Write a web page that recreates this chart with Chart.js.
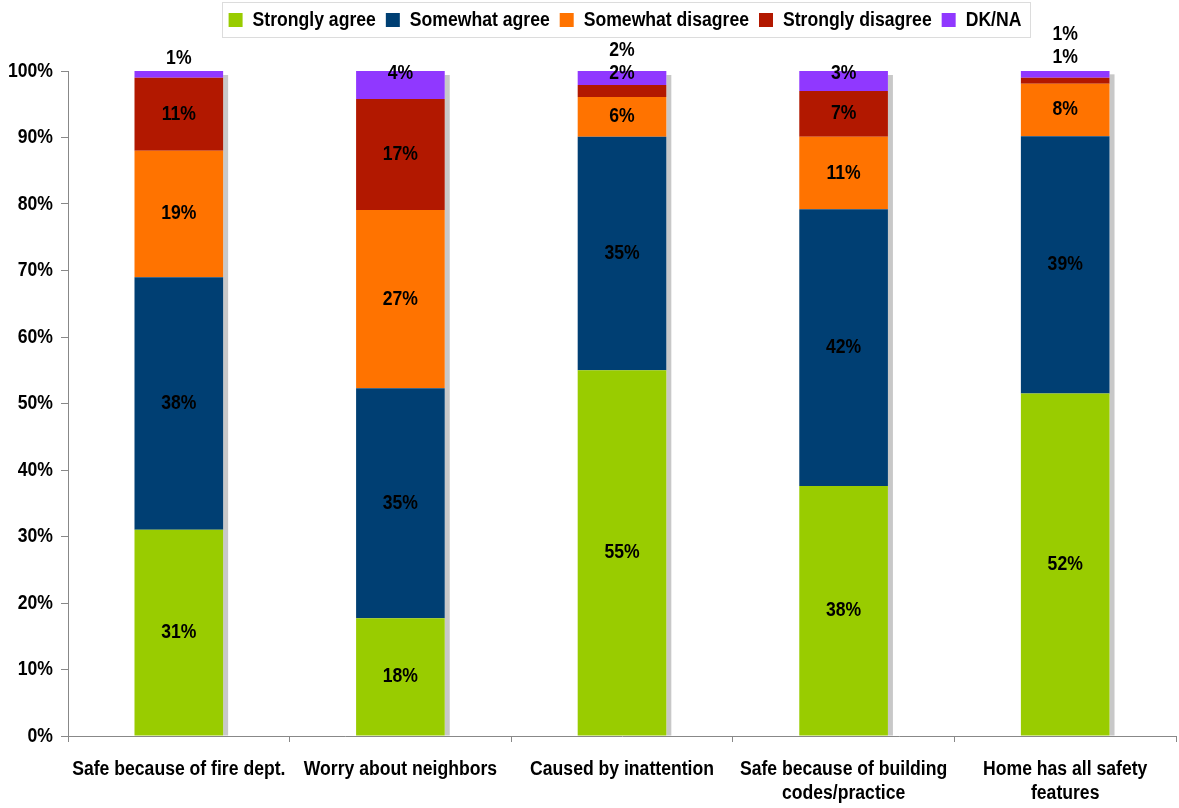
<!DOCTYPE html>
<html>
<head>
<meta charset="utf-8">
<script src="https://cdn.jsdelivr.net/npm/chart.js@4.4.1/dist/chart.umd.min.js"></script>
<style>
  html, body { margin: 0; padding: 0; background: #fff; }
  #wrap { width: 1179px; height: 808px; }
</style>
</head>
<body>
<div id="wrap"><canvas id="chart" width="1179" height="808"></canvas></div>
<script>
// ---------- Data ----------
const categories = [
  "Safe because of fire dept.",
  "Worry about neighbors",
  "Caused by inattention",
  ["Safe because of building", "codes/practice"],
  ["Home has all safety", "features"]
];
const seriesNames = ["Strongly agree", "Somewhat agree", "Somewhat disagree", "Strongly disagree", "DK/NA"];
const stronglyAgree    = [31, 17.7, 55, 37.6, 51.5];
const somewhatAgree    = [38, 34.6, 35.1, 41.6, 38.7];
const somewhatDisagree = [19, 26.8, 6, 10.9, 7.9];
const stronglyDisagree = [11, 16.7, 1.8, 6.9, 0.9];
const dkna             = [1, 4.2, 2.1, 3, 1.1];
const yTicks = [0, 10, 20, 30, 40, 50, 60, 70, 80, 90, 100];

const colors = ["#99CC00", "#003F73", "#FF7300", "#B21800", "#9038FF"];
const FONT = "'Liberation Sans', Arial, sans-serif";
const SQUEEZE = 0.88;   // the original type is a narrow face

// ---------- Helpers ----------
// squeeze every text run horizontally (no condensed font installed)
function narrowContext(ctx, k) {
  const fill = ctx.fillText.bind(ctx);
  const measure = ctx.measureText.bind(ctx);
  ctx.fillText = function (t, x, y, maxW) {
    this.save();
    this.translate(x, y);
    this.scale(k, 1);
    if (maxW === undefined) fill(t, 0, 0); else fill(t, 0, 0, maxW / k);
    this.restore();
  };
  ctx.measureText = function (t) {
    const m = measure(t);
    return {
      width: m.width * k,
      actualBoundingBoxAscent: m.actualBoundingBoxAscent,
      actualBoundingBoxDescent: m.actualBoundingBoxDescent,
      actualBoundingBoxLeft: m.actualBoundingBoxLeft * k,
      actualBoundingBoxRight: m.actualBoundingBoxRight * k
    };
  };
}

// ---------- Plugins ----------
const shadowPlugin = {
  id: "barShadow",
  beforeDatasetsDraw(chart) {
    const { ctx } = chart;
    const n = chart.data.datasets.length;
    const first = chart.getDatasetMeta(0), last = chart.getDatasetMeta(n - 1);
    ctx.save();
    ctx.fillStyle = "#c8c8c8";
    first.data.forEach((el, j) => {
      const top = last.data[j].y, bottom = el.base;
      const right = el.x + el.width / 2;
      ctx.fillRect(right, top + 4, 5, bottom - top - 4);
    });
    ctx.restore();
  }
};

const labelPlugin = {
  id: "segLabels",
  afterDatasetsDraw(chart) {
    const { ctx } = chart;
    const ds = chart.data.datasets;
    const n = ds.length;
    ctx.save();
    ctx.font = `bold 20px ${FONT}`;
    ctx.fillStyle = "#000";
    ctx.textAlign = "center";
    ctx.textBaseline = "middle";
    chart.data.labels.forEach((_, j) => {
      const barTop = chart.getDatasetMeta(n - 1).data[j].y;
      const small = [];
      for (let i = 0; i < n; i++) {
        const v = ds[i].data[j];
        const el = chart.getDatasetMeta(i).data[j];
        if (i === n - 1 || v < 3) { small.unshift({ v, x: el.x }); continue; }
        ctx.fillText(`${Math.round(v)}%`, el.x, (el.y + el.base) / 2);
      }
      // labels that do not fit go on top of the bar
      let y = barTop + (small[0].v >= 2 ? 2 : -13);
      small.forEach((s) => {
        ctx.fillText(`${Math.round(s.v)}%`, s.x, y);
        y -= 23;
      });
    });
    ctx.restore();
  }
};

const legendPlugin = {
  id: "legendTweak",
  beforeInit(chart) {
    const lg = chart.legend;
    const fit = lg.fit;
    lg.fit = function () { fit.call(this); this.height += 31; };
  },
  afterLayout(chart) {
    const lg = chart.legend;
    lg.left += 37; lg.right += 37;
  },
  afterDraw(chart) {
    const { ctx } = chart;
    ctx.save();
    ctx.strokeStyle = "#dcdcdc";
    ctx.lineWidth = 1;
    ctx.strokeRect(222.5, 2.5, 808, 35);
    ctx.restore();
  }
};

// ---------- Chart ----------
Chart.defaults.font.family = FONT;
Chart.defaults.font.weight = "bold";
Chart.defaults.font.size = 20;
Chart.defaults.color = "#000";

const seriesData = [stronglyAgree, somewhatAgree, somewhatDisagree, stronglyDisagree, dkna];

const ctx = document.getElementById("chart").getContext("2d");
narrowContext(ctx, SQUEEZE);

new Chart(ctx, {
  type: "bar",
  data: {
    labels: categories,
    datasets: seriesNames.map((name, i) => ({
      label: name,
      data: seriesData[i],
      backgroundColor: colors[i],
      borderWidth: 0,
      barPercentage: 0.4,
      categoryPercentage: 1
    }))
  },
  options: {
    responsive: false,
    animation: false,
    layout: { padding: { top: 0, right: 3, left: 0, bottom: -12 } },
    plugins: {
      legend: {
        position: "top",
        labels: { boxWidth: 14, boxHeight: 14, padding: 10 }
      },
      tooltip: { enabled: false }
    },
    scales: {
      x: {
        stacked: true,
        grid: { offset: true, drawOnChartArea: false, tickLength: 6, color: "#888" },
        border: { color: "#888" },
        ticks: { padding: 15, maxRotation: 0, autoSkip: false }
      },
      y: {
        stacked: true,
        min: 0, max: 100,
        afterBuildTicks: (ax) => { ax.ticks = yTicks.map((v) => ({ value: v })); },
        grid: { drawOnChartArea: false, tickLength: 7, color: "#888" },
        border: { color: "#888" },
        ticks: { padding: 8, callback: (v) => `${v}%` }
      }
    }
  },
  plugins: [shadowPlugin, labelPlugin, legendPlugin]
});
</script>
</body>
</html>
